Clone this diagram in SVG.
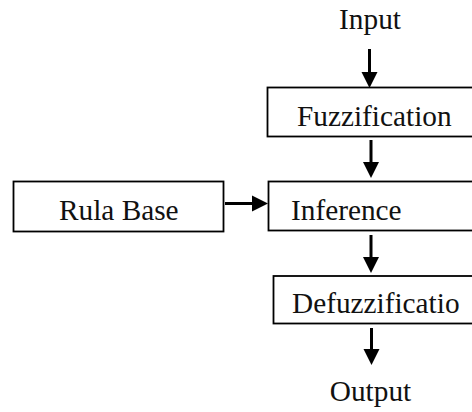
<svg xmlns="http://www.w3.org/2000/svg" width="472" height="412" viewBox="0 0 472 412">
<style>
.box{fill:#fff;stroke:#000;stroke-width:1.8}
.lbl{font-family:"Liberation Serif","Times New Roman",serif;font-size:29.3px;fill:#111}
.con{stroke:#000;stroke-width:3;fill:none;marker-end:url(#ah)}
</style>
<defs>
<marker id="ah" markerUnits="userSpaceOnUse" markerWidth="16" markerHeight="16" refX="0" refY="8" orient="auto" overflow="visible">
<path d="M0,0 L16,8 L0,16 Z" fill="#000"/>
</marker>
</defs>
<rect width="472" height="412" fill="#fff"/>
<g id="input"><text class="lbl" x="370" y="29" text-anchor="middle">Input</text></g>
<g id="fuzzification"><rect class="box" x="267.5" y="87.5" width="220" height="49"/><text class="lbl" x="297" y="126">Fuzzification</text></g>
<g id="rulebase"><rect class="box" x="13.5" y="181.5" width="210" height="50"/><text class="lbl" x="59" y="220">Rula Base</text></g>
<g id="inference"><rect class="box" x="268.5" y="181.5" width="220" height="49"/><text class="lbl" x="291" y="220">Inference</text></g>
<g id="defuzzification"><rect class="box" x="273.5" y="276" width="220" height="47.5"/><text class="lbl" x="292" y="313">Defuzzificatio</text></g>
<g id="output"><text class="lbl" x="370.5" y="401" text-anchor="middle">Output</text></g>
<g id="connectors">
<line class="con" x1="369.5" y1="49" x2="369.5" y2="72"/>
<line class="con" x1="371" y1="140" x2="371" y2="162"/>
<line class="con" x1="371" y1="235" x2="371" y2="257"/>
<line class="con" x1="371.5" y1="328" x2="371.5" y2="349"/>
<line class="con" x1="225" y1="203.5" x2="252" y2="203.5"/>
</g>
</svg>
